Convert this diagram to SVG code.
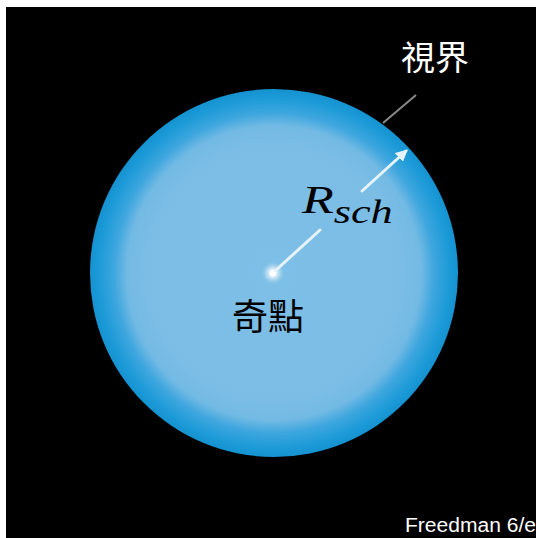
<svg xmlns="http://www.w3.org/2000/svg" width="536" height="538" viewBox="0 0 536 538">
  <defs>
    <radialGradient id="hole" cx="274" cy="273" r="184" gradientUnits="userSpaceOnUse">
      <stop offset="0" stop-color="#7dbfe6"/>
      <stop offset="0.7" stop-color="#7bbde5"/>
      <stop offset="0.8" stop-color="#72bae4"/>
      <stop offset="0.87" stop-color="#3ea6de"/>
      <stop offset="0.95" stop-color="#1d9bd8"/>
      <stop offset="1" stop-color="#1592d0"/>
    </radialGradient>
    <filter id="glow" x="-2" y="-2" width="5" height="5">
      <feGaussianBlur stdDeviation="2.5"/>
    </filter>
    <filter id="soft" x="-0.2" y="-0.2" width="1.4" height="1.4">
      <feGaussianBlur stdDeviation="0.6"/>
    </filter>
    <marker id="tip" viewBox="0 0 10 10" refX="8" refY="5" markerWidth="4" markerHeight="4" orient="auto">
      <path d="M0,0 L10,5 L0,10 z" fill="#e8f4fc"/>
    </marker>
  </defs>
  <style>
    .cjk { font-family: "Noto Sans CJK TC", "Noto Sans CJK SC", sans-serif; }
    .ray { stroke: #e6f3fb; stroke-width: 3; stroke-linecap: round; fill: none; }
  </style>

  <rect x="0" y="0" width="536" height="538" fill="#ffffff"/>
  <rect x="6" y="7" width="530" height="531" fill="#000000"/>

  <g id="black-hole">
    <circle cx="274" cy="273" r="184" fill="url(#hole)"/>
  </g>

  <g id="singularity">
    <circle cx="273" cy="273" r="7" fill="#ffffff" opacity="0.8" filter="url(#glow)"/>
    <circle cx="273" cy="273" r="3.5" fill="#ffffff"/>
    <text class="cjk" x="268" y="330" font-size="36" fill="#000000" text-anchor="middle">奇點</text>
  </g>

  <g id="connectors">
    <line class="ray" x1="275" y1="271" x2="320" y2="230" filter="url(#soft)"/>
    <line class="ray" x1="362" y1="191" x2="406" y2="151" marker-end="url(#tip)" filter="url(#soft)"/>
    <line x1="383" y1="123" x2="416" y2="95" stroke="#8a8a8a" stroke-width="2" filter="url(#soft)"/>
  </g>

  <g id="radius-label">
    <text transform="translate(302 213) scale(1.3 1)" font-family="'Liberation Serif', 'DejaVu Serif', serif" font-style="italic" font-size="40" fill="#000000">R<tspan font-size="34" dy="10">sch</tspan></text>
  </g>

  <g id="horizon">
    <text class="cjk" x="435" y="70" font-size="34" fill="#ffffff" text-anchor="middle">視界</text>
  </g>

  <text x="405" y="532" font-family="'Liberation Sans', Arial, sans-serif" font-size="19.5" textLength="131" lengthAdjust="spacingAndGlyphs" fill="#ffffff">Freedman 6/e</text>
</svg>
